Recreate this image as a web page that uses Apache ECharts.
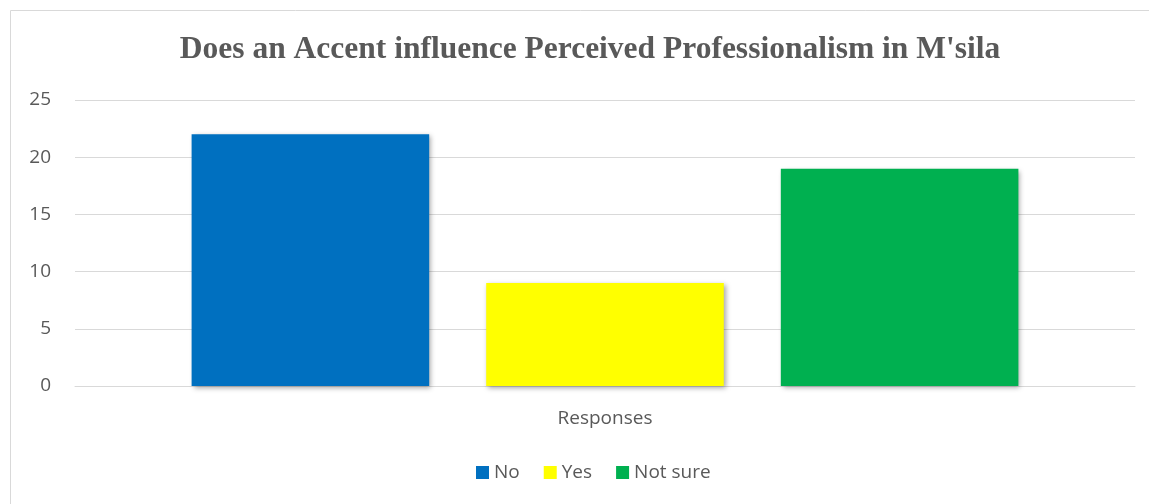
<!DOCTYPE html>
<html>
<head>
<meta charset="utf-8">
<script src="https://cdn.jsdelivr.net/npm/echarts@6/dist/echarts.min.js"></script>
<style>
html,body{margin:0;padding:0;background:#fff;}
#chart{width:1149px;height:504px;}
</style>
</head>
<body>
<div id="chart"></div>
<script>
const titleText = "Does an Accent influence Perceived Professionalism in M'sila";
const categories = ["Responses"];
const seriesNames = ["No", "Yes", "Not sure"];
const noValues = [22];
const yesValues = [9];
const notSureValues = [19];
const colors = ["#0070C0", "#FFFF00", "#00B050"];

const chart = echarts.init(document.getElementById('chart'));
const valueSets = [noValues, yesValues, notSureValues];
const series = seriesNames.map((n, i) => ({
  name: n,
  type: 'bar',
  data: valueSets[i],
  barGap: '24%',
  barCategoryGap: '22%',
  itemStyle: {
    color: colors[i],
    shadowColor: 'rgba(0,0,0,0.35)',
    shadowBlur: 5,
    shadowOffsetX: 2,
    shadowOffsetY: 2
  }
}));
chart.setOption({
  animation: false,
  graphic: [{
    type: 'rect',
    shape: {x: 10.5, y: 10.5, width: 1200, height: 600},
    style: {fill: 'none', stroke: '#d9d9d9', lineWidth: 1},
    silent: true
  }],
  title: {
    text: titleText,
    left: 585,
    textAlign: 'center',
    top: 29,
    textStyle: {fontFamily: 'Liberation Serif', fontWeight: 'bold', fontSize: 31.5, color: '#595959'}
  },
  legend: {
    data: seriesNames,
    bottom: 17,
    left: 471,
    itemWidth: 13,
    itemHeight: 13,
    itemGap: 24,
    icon: 'rect',
    textStyle: {fontFamily: 'Open Sans', fontSize: 19, color: '#595959'}
  },
  grid: {left: 75, right: 14, top: 100, bottom: 118},
  xAxis: {
    type: 'category',
    data: categories,
    axisLine: {lineStyle: {color: '#d9d9d9', width: 1}},
    axisTick: {show: false},
    axisLabel: {fontFamily: 'Open Sans', fontSize: 19, color: '#595959', margin: 23}
  },
  yAxis: {
    type: 'value',
    min: 0,
    max: 25,
    interval: 5,
    axisLine: {show: false},
    axisTick: {show: false},
    splitLine: {lineStyle: {color: '#d9d9d9', width: 1}},
    axisLabel: {fontFamily: 'Open Sans', fontSize: 19, color: '#595959', margin: 24}
  },
  series: series
});
</script>
</body>
</html>
